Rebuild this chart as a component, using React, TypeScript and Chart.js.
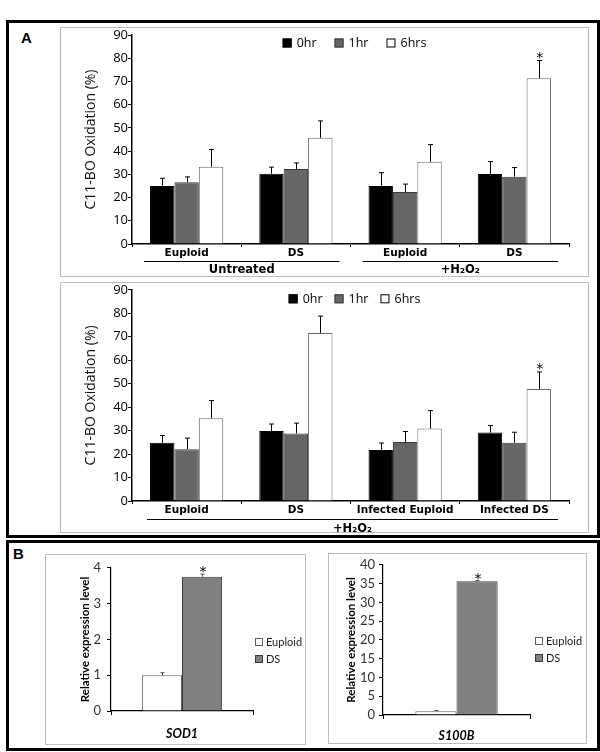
import React, { useEffect, useRef } from 'react';
import { Chart, registerables } from 'chart.js';
Chart.register(...registerables);

const FONT_A = '"DejaVu Sans", Verdana, sans-serif';
const FONT_A2 = '"Open Sans", "DejaVu Sans", sans-serif';
const FONT_B = 'Lato, "Open Sans", sans-serif';

// ---------- Panel A, upper chart ----------
const topCategories = ['Euploid', 'DS', 'Euploid', 'DS'];
const top0hr = [25.0, 30.3, 25.0, 30.1];
const top0hrErr = [3.3, 2.8, 5.7, 5.4];
const top1hr = [26.6, 32.3, 22.4, 29.0];
const top1hrErr = [2.3, 2.6, 3.4, 3.9];
const top6hrs = [33.3, 45.7, 35.4, 71.4];
const top6hrsErr = [7.4, 7.3, 7.4, 7.6];
const top6hrsStars = [false, false, false, true];
const topGroupNames = ['Untreated', '+H\u2082O\u2082'];
const topGroupSpans = [[0, 1], [2, 3]];

// ---------- Panel A, lower chart ----------
const midCategories = ['Euploid', 'DS', 'Infected Euploid', 'Infected DS'];
const mid0hr = [24.8, 29.8, 21.7, 29.2];
const mid0hrErr = [3.1, 3.0, 3.0, 3.0];
const mid1hr = [22.1, 28.8, 25.1, 24.8];
const mid1hrErr = [4.7, 4.4, 4.5, 4.5];
const mid6hrs = [35.3, 71.6, 30.9, 47.7];
const mid6hrsErr = [7.5, 7.2, 7.6, 7.3];
const mid6hrsStars = [false, false, false, true];
const midGroupNames = ['+H\u2082O\u2082'];
const midGroupSpans = [[0, 3]];

const seriesLabelsA = ['0hr', '1hr', '6hrs'];
const yAxisTitleA = 'C11-BO Oxidation (%)';
const yMaxA = 90;
const yStepA = 10;

// ---------- Panel B ----------
const sodCategories = ['SOD1'];
const sodEuploid = [1.0];
const sodEuploidErr = [0.07];
const sodDS = [3.75];
const sodDSErr = [0.07];
const sodDSStars = [true];
const sodMax = 4;
const sodStep = 1;

const s100Categories = ['S100B'];
const s100Euploid = [1.0];
const s100EuploidErr = [0.2];
const s100DS = [35.6];
const s100DSErr = [0.2];
const s100DSStars = [true];
const s100Max = 40;
const s100Step = 5;

const seriesLabelsB = ['Euploid', 'DS'];
const yAxisTitleB = 'Relative expression level';

// ---------- plugins ----------
const errorBarsPlugin = {
  id: 'errorBars',
  afterDatasetsDraw(chart: any, _args: any, opts: any) {
    const ctx = chart.ctx;
    const y = chart.scales.y;
    chart.data.datasets.forEach((ds: any, di: number) => {
      if (!ds.errors) return;
      const meta = chart.getDatasetMeta(di);
      meta.data.forEach((bar: any, i: number) => {
        const v = ds.data[i];
        const topPx = y.getPixelForValue(v + ds.errors[i]);
        const x = Math.round(bar.x) + 0.5;
        ctx.save();
        ctx.strokeStyle = opts.color || '#000';
        ctx.lineWidth = 1;
        ctx.beginPath();
        ctx.moveTo(x, bar.y);
        ctx.lineTo(x, topPx);
        ctx.moveTo(x - (opts.cap || 2.5), topPx);
        ctx.lineTo(x + (opts.cap || 2.5), topPx);
        ctx.stroke();
        if (ds.stars && ds.stars[i]) {
          ctx.fillStyle = '#000';
          ctx.font = opts.starFont || `14px ${FONT_A}`;
          ctx.textAlign = 'center';
          ctx.textBaseline = 'alphabetic';
          ctx.fillText('*', bar.x + 1, topPx + (opts.starDy || 1));
        }
        ctx.restore();
      });
    });
  },
};

const groupAxisPlugin = {
  id: 'groupAxis',
  afterDraw(chart: any, _args: any, opts: any) {
    if (!opts || !opts.names) return;
    const ctx = chart.ctx;
    const xs = chart.scales.x;
    const n = chart.data.labels.length;
    const half = (xs.right - xs.left) / n / 2;
    const bottom = chart.chartArea.bottom;
    opts.names.forEach((name: string, gi: number) => {
      const [from, to] = opts.spans[gi];
      const x1 = xs.getPixelForValue(from) - half + opts.insetL;
      const x2 = xs.getPixelForValue(to) + half - opts.insetR;
      ctx.save();
      ctx.strokeStyle = '#000';
      ctx.lineWidth = 1;
      ctx.beginPath();
      ctx.moveTo(x1, Math.round(bottom + opts.lineDy) + 0.5);
      ctx.lineTo(x2, Math.round(bottom + opts.lineDy) + 0.5);
      ctx.stroke();
      ctx.fillStyle = '#000';
      ctx.font = `bold 11.5px ${FONT_A}`;
      ctx.textAlign = 'center';
      ctx.textBaseline = 'middle';
      ctx.fillText(name, (x1 + x2) / 2, bottom + opts.textDy);
      ctx.restore();
    });
  },
};

const boxLegendPlugin = {
  id: 'boxLegend',
  afterDraw(chart: any, _args: any, opts: any) {
    if (!opts || !opts.mode) return;
    const ctx = chart.ctx;
    const ca = chart.chartArea;
    const box = opts.box;
    ctx.save();
    ctx.font = opts.font;
    ctx.textBaseline = 'middle';
    ctx.textAlign = 'left';
    const items = chart.data.datasets.map((ds: any) => ({
      label: ds.label,
      fill: ds.backgroundColor,
      stroke: ds.legendBorder || ds.borderColor,
      w: ctx.measureText(ds.label).width,
    }));
    const drawItem = (it: any, x: number, yc: number) => {
      ctx.fillStyle = it.fill;
      ctx.fillRect(x, yc - box / 2, box, box);
      ctx.strokeStyle = it.stroke;
      ctx.lineWidth = 1;
      ctx.strokeRect(x + 0.5, yc - box / 2 + 0.5, box - 1, box - 1);
      ctx.fillStyle = opts.color || '#000';
      ctx.fillText(it.label, x + box + opts.textGap, yc + 0.5);
    };
    if (opts.mode === 'row') {
      const total = items.reduce((s: number, it: any) => s + box + opts.textGap + it.w, 0) + opts.itemGap * (items.length - 1);
      let x = (ca.left + ca.right) / 2 + opts.dx - total / 2;
      const yc = ca.top + opts.dy;
      items.forEach((it: any) => {
        drawItem(it, x, yc);
        x += box + opts.textGap + it.w + opts.itemGap;
      });
    } else {
      items.forEach((it: any, i: number) => {
        drawItem(it, opts.x, opts.y + i * opts.rowGap);
      });
    }
    ctx.restore();
  },
};

// ---------- config builders ----------
function panelAConfig(labels: string[], series: number[][], errs: number[][], stars: boolean[], groupNames: string[], groupSpans: number[][], lay: any) {
  const fills = ['#000000', '#666666', '#ffffff'];
  const borders = ['#000000', '#3a3a3a', '#6a6a6a'];
  const legendBorders = ['#000000', '#3a3a3a', '#000000'];
  return {
    type: 'bar',
    data: {
      labels,
      datasets: series.map((d, i) => ({
        label: seriesLabelsA[i],
        data: d,
        errors: errs[i],
        stars: i === 2 ? stars : null,
        backgroundColor: fills[i],
        borderColor: borders[i],
        legendBorder: legendBorders[i],
        borderWidth: 1,
        categoryPercentage: 0.67,
        barPercentage: 1.0,
      })),
    },
    options: {
      animation: false,
      responsive: false,
      events: [],
      layout: { padding: { left: 23, top: lay.top, right: 20, bottom: 0 } },
      plugins: {
        legend: { display: false },
        tooltip: { enabled: false },
        errorBars: { color: '#000', cap: 2.5, starFont: `14px ${FONT_A}`, starDy: 1 },
        groupAxis: { names: groupNames, spans: groupSpans, insetL: lay.insetL, insetR: lay.insetR, lineDy: lay.lineDy, textDy: lay.textDy },
        boxLegend: { mode: 'row', box: 9, textGap: 5, itemGap: lay.itemGap, dx: 4, dy: lay.legendDy, font: `12.5px ${FONT_A2}`, color: '#000' },
      },
      scales: {
        x: {
          ticks: { font: { family: FONT_A, size: 10.5, weight: 'bold' }, color: '#000', padding: 0, maxRotation: 0, autoSkip: false },
          grid: { drawOnChartArea: false, drawTicks: true, tickLength: 3, color: '#000', offset: true },
          border: { color: '#000', width: 1.5 },
          afterFit(s: any) { s.height = lay.xHeight; },
        },
        y: {
          min: 0,
          max: yMaxA,
          ticks: { stepSize: yStepA, font: { family: FONT_A2, size: 13 }, color: '#000', padding: 0, autoSkip: false },
          grid: { drawOnChartArea: false, drawTicks: true, tickLength: 4, color: '#000' },
          border: { color: '#000', width: 1.5 },
          title: { display: true, text: yAxisTitleA, font: { family: FONT_A2, size: 14 }, color: '#111', padding: 0 },
          afterFit(s: any) { s.width = 49; },
        },
      },
    },
    plugins: [errorBarsPlugin, groupAxisPlugin, boxLegendPlugin],
  };
}

function panelBConfig(labels: string[], eu: number[], euErr: number[], ds: number[], dsErr: number[], stars: boolean[], max: number, step: number, lay: any) {
  return {
    type: 'bar',
    data: {
      labels,
      datasets: [
        { label: seriesLabelsB[0], data: eu, errors: euErr, stars: null, backgroundColor: '#ffffff', borderColor: '#606060', legendBorder: '#606060', borderWidth: 1, categoryPercentage: lay.catPct, barPercentage: 1.0 },
        { label: seriesLabelsB[1], data: ds, errors: dsErr, stars, backgroundColor: '#808080', borderColor: '#3c3c3c', legendBorder: '#3c3c3c', borderWidth: 1, categoryPercentage: lay.catPct, barPercentage: 1.0 },
      ],
    },
    options: {
      animation: false,
      responsive: false,
      events: [],
      layout: { padding: { left: lay.padLeft, top: lay.top, right: lay.padRight, bottom: 0 } },
      plugins: {
        legend: { display: false },
        tooltip: { enabled: false },
        errorBars: { color: '#555', cap: 2, starFont: `14px ${FONT_A}`, starDy: 2 },
        boxLegend: { mode: 'col', box: 8, textGap: 3, x: lay.legendX, y: lay.legendY, rowGap: 17, font: `11px ${FONT_B}`, color: '#222' },
      },
      scales: {
        x: {
          ticks: { font: { family: FONT_B, size: 12.5, weight: 'bold', style: 'italic' }, color: '#000', padding: lay.xPad, maxRotation: 0, autoSkip: false },
          grid: { drawOnChartArea: false, drawTicks: true, tickLength: 4, color: '#000', offset: true },
          border: { color: '#000', width: 1.2 },
          afterFit(s: any) { s.height = lay.xHeight; },
        },
        y: {
          min: 0,
          max,
          ticks: { stepSize: step, font: { family: FONT_B, size: 13 }, color: '#333', padding: lay.yPad, autoSkip: false },
          grid: { drawOnChartArea: false, drawTicks: true, tickLength: 4, color: '#000' },
          border: { color: '#000', width: 1.2 },
          title: { display: true, text: yAxisTitleB, font: { family: FONT_B, size: 11.5, weight: 'bold' }, color: '#000', padding: 0 },
          afterFit(s: any) { s.width = lay.yWidth; },
        },
      },
    },
    plugins: [errorBarsPlugin, boxLegendPlugin],
  };
}

const abs = (left: number, top: number, width: number, height: number, extra: any = {}) => ({
  position: 'absolute' as const, left, top, width, height, boxSizing: 'border-box' as const, ...extra,
});

export default function App() {
  const c1 = useRef<HTMLCanvasElement>(null);
  const c2 = useRef<HTMLCanvasElement>(null);
  const c3 = useRef<HTMLCanvasElement>(null);
  const c4 = useRef<HTMLCanvasElement>(null);

  useEffect(() => {
    const charts: Chart[] = [];
    charts.push(new Chart(c1.current as any, panelAConfig(
      topCategories, [top0hr, top1hr, top6hrs], [top0hrErr, top1hrErr, top6hrsErr], top6hrsStars,
      topGroupNames, topGroupSpans,
      { top: 8, xHeight: 33, insetL: 12, insetR: 11, lineDy: 17, textDy: 26, itemGap: 18, legendDy: 8 }
    ) as any));
    charts.push(new Chart(c2.current as any, panelAConfig(
      midCategories, [mid0hr, mid1hr, mid6hrs], [mid0hrErr, mid1hrErr, mid6hrsErr], mid6hrsStars,
      midGroupNames, midGroupSpans,
      { top: 7, xHeight: 32, insetL: 15, insetR: 11, lineDy: 18, textDy: 28, itemGap: 12, legendDy: 9 }
    ) as any));
    charts.push(new Chart(c3.current as any, panelBConfig(
      sodCategories, sodEuploid, sodEuploidErr, sodDS, sodDSErr, sodDSStars, sodMax, sodStep,
      { padLeft: 33, top: 8, padRight: 53, xHeight: 34, yWidth: 33, catPct: 0.565, legendX: 210, legendY: 88, xPad: 11, yPad: 6 }
    ) as any));
    charts.push(new Chart(c4.current as any, panelBConfig(
      s100Categories, s100Euploid, s100EuploidErr, s100DS, s100DSErr, s100DSStars, s100Max, s100Step,
      { padLeft: 16, top: 9, padRight: 57, xHeight: 29, yWidth: 39, catPct: 0.56, legendX: 207, legendY: 88, xPad: 9, yPad: 4 }
    ) as any));
    return () => charts.forEach((c) => c.destroy());
  }, []);

  const boxBorder = '1px solid #bdbdbd';
  return (
    <div style={abs(0, 0, 600, 752, { background: '#fff', overflow: 'hidden' })}>
      <div style={abs(6, 20, 594, 518, { border: '3px solid #000' })} />
      <div style={abs(21, 30, 20, 16, { font: `bold 15px "Liberation Sans", Arial, sans-serif`, lineHeight: '15px' })}>A</div>
      <div style={abs(60, 27, 529, 250, { border: boxBorder })} />
      <canvas ref={c1} width={529} height={250} style={abs(60, 27, 529, 250)} />
      <div style={abs(60, 282, 529, 251, { border: boxBorder })} />
      <canvas ref={c2} width={529} height={251} style={abs(60, 282, 529, 251)} />

      <div style={abs(6, 540, 594, 211, { border: '3px solid #000' })} />
      <div style={abs(13, 546, 20, 16, { font: `bold 15px "Liberation Sans", Arial, sans-serif`, lineHeight: '15px' })}>B</div>
      <div style={abs(45, 554, 261, 191, { border: boxBorder })} />
      <canvas ref={c3} width={261} height={191} style={abs(45, 554, 261, 191)} />
      <div style={abs(328, 553, 259, 191, { border: boxBorder })} />
      <canvas ref={c4} width={259} height={191} style={abs(328, 553, 259, 191)} />
    </div>
  );
}
